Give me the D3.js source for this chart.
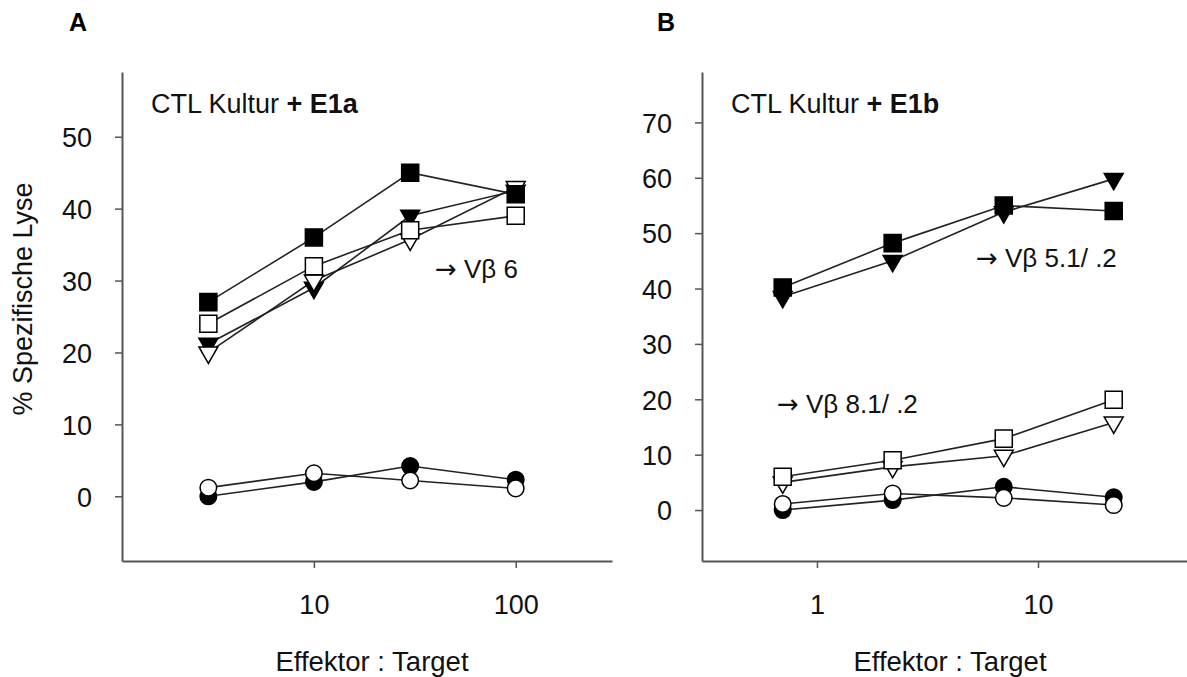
<!DOCTYPE html>
<html>
<head>
<meta charset="utf-8">
<script src="https://cdn.jsdelivr.net/npm/d3@7"></script>
<style>
  body { margin: 0; background: #fff; }
  svg { display: block; font-family: "Liberation Sans", Arial, sans-serif; }
</style>
</head>
<body>
<script>
const width = 1187;
const height = 677;

// E:T ratios
const xA = [3, 10, 30, 100];
const xB = [0.7, 2.2, 7, 22];

// panel A (E1a)
const filledCircleA = [0, 2, 4.2, 2.3];
const openCircleA = [1.2, 3.2, 2.2, 1.1];
const filledTriA = [21.2, 29, 39, 42.5];
const openTriA = [20, 30, 35.7, 43];
const filledSqA = [27, 36, 45, 42];
const openSqA = [24, 32, 37, 39];

// panel B (E1b)
const filledCircleB = [0, 1.8, 4.2, 2.3];
const openCircleB = [1.1, 3, 2.2, 0.9];
const filledTriB = [38.5, 45, 53.8, 59.8];
const openTriB = [5, 7.8, 9.8, 15.8];
const filledSqB = [40.2, 48.2, 55, 54];
const openSqB = [6, 9, 12.9, 19.9];

const yTicksA = [0, 10, 20, 30, 40, 50];
const yTicksB = [0, 10, 20, 30, 40, 50, 60, 70];
const xTicksA = [10, 100];
const xTicksB = [1, 10];

const svg = d3.select('body').append('svg')
    .attr('width', width)
    .attr('height', height);

function drawPanel(p) {
    const x = d3.scaleLog().domain(p.xDomain).range(p.xRange);
    const y = d3.scaleLinear().domain(p.yDomain).range([561, 72]);

    // axes
    const gx = svg.append('g')
        .attr('transform', `translate(0,${y.range()[0]})`)
        .call(d3.axisBottom(x).tickValues(p.xTicks).tickFormat(d3.format('d'))
            .tickSizeOuter(0).tickSizeInner(7).tickPadding(27));
    const gy = svg.append('g')
        .attr('transform', `translate(${p.xRange[0]},0)`)
        .call(d3.axisLeft(y).tickValues(p.yTicks)
            .tickSizeOuter(0).tickSizeInner(7).tickPadding(23));
    [gx, gy].forEach(g => {
        g.select('.domain').attr('stroke', '#555').attr('stroke-width', 2);
        g.selectAll('.tick line').attr('stroke', '#555').attr('stroke-width', 1.5);
        g.selectAll('.tick text').attr('fill', '#111')
            .style('font-size', '27px').style('font-family', '"Liberation Sans", Arial, sans-serif');
    });
    gy.selectAll('.tick text').attr('dy', '0.36em');

    // lines first
    const line = d3.line()
        .x(d => x(d[0]))
        .y(d => y(d[1]));
    p.series.forEach(s => {
        svg.append('path')
            .datum(p.xs.map((v, i) => [v, s.values[i]]))
            .attr('d', line)
            .attr('fill', 'none')
            .attr('stroke', '#222')
            .attr('stroke-width', 1.6);
    });

    // markers
    p.series.forEach(s => {
        const sym = d3.symbol().type(s.shape).size(s.size);
        svg.append('g').selectAll('path')
            .data(p.xs.map((v, i) => [v, s.values[i]]))
            .enter()
            .append('path')
            .attr('d', sym)
            .attr('transform', d => `translate(${x(d[0])},${y(d[1])})` + (s.down ? ' rotate(180)' : ''))
            .attr('fill', s.filled ? '#000' : '#fff')
            .attr('stroke', '#000')
            .attr('stroke-width', 1.5);
    });

    // header text
    const t = svg.append('text')
        .attr('x', p.xRange[0] + 29)
        .attr('y', 113)
        .style('font-size', '27px')
        .attr('fill', '#111');
    t.append('tspan').text('CTL Kultur ');
    t.append('tspan').attr('font-weight', 'bold').text('+ ' + p.name);

    // panel letter
    svg.append('text')
        .attr('x', p.letterX)
        .attr('y', 31)
        .attr('font-weight', 'bold')
        .style('font-size', '25px')
        .text(p.letter);

    // x label
    svg.append('text')
        .attr('x', p.labelX)
        .attr('y', 671)
        .attr('text-anchor', 'middle')
        .style('font-size', '27.5px')
        .attr('fill', '#111')
        .text('Effektor : Target');

    p.notes.forEach(n => {
        const nt = svg.append('text')
            .attr('x', n.x)
            .attr('y', n.y)
            .style('font-size', '26px')
            .attr('fill', '#111');
        nt.append('tspan').style('font-family', '"DejaVu Sans", sans-serif').text('\u2192');
        nt.append('tspan').text(' ' + n.text);
    });
}

const circle = d3.symbolCircle, square = d3.symbolSquare, tri = d3.symbolTriangle;

function seriesList(fc, oc, ft, ot, fs, os) {
    return [
        { values: fc, shape: circle, size: 215, filled: true },
        { values: oc, shape: circle, size: 215, filled: false },
        { values: ft, shape: tri, size: 155, filled: true, down: true },
        { values: ot, shape: tri, size: 155, filled: false, down: true },
        { values: fs, shape: square, size: 290, filled: true },
        { values: os, shape: square, size: 290, filled: false }
    ];
}

drawPanel({
    name: 'E1a', letter: 'A', letterX: 69, labelX: 372,
    xs: xA, xDomain: [1.12, 300], xRange: [122, 612],
    yDomain: [-9, 59], yTicks: yTicksA, xTicks: xTicksA,
    series: seriesList(filledCircleA, openCircleA, filledTriA, openTriA, filledSqA, openSqA),
    notes: [{ x: 435, y: 278, text: 'V\u03b2 6' }]
});

drawPanel({
    name: 'E1b', letter: 'B', letterX: 657, labelX: 950,
    xs: xB, xDomain: [0.302, 47.2], xRange: [702, 1187],
    yDomain: [-9.2, 79.1], yTicks: yTicksB, xTicks: xTicksB,
    series: seriesList(filledCircleB, openCircleB, filledTriB, openTriB, filledSqB, openSqB),
    notes: [
        { x: 976, y: 267, text: 'V\u03b2 5.1/ .2' },
        { x: 777, y: 413, text: 'V\u03b2 8.1/ .2' }
    ]
});

// y label
svg.append('text')
    .attr('transform', 'translate(32,299) rotate(-90)')
    .attr('text-anchor', 'middle')
    .style('font-size', '27px')
    .attr('fill', '#111')
    .text('% Spezifische Lyse');
</script>
</body>
</html>
